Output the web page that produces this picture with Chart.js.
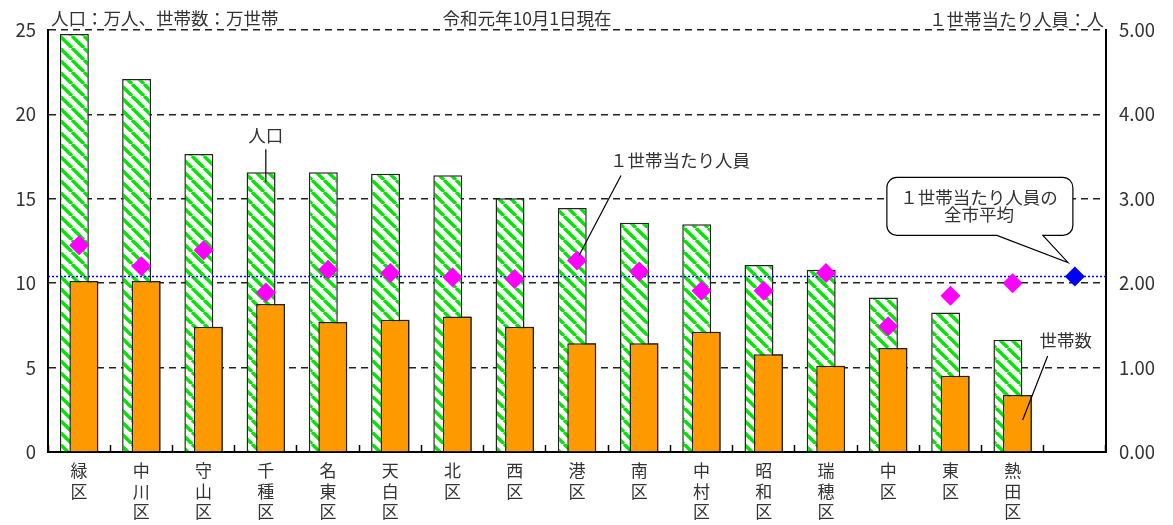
<!DOCTYPE html>
<html>
<head>
<meta charset="utf-8">
<script src="https://cdn.jsdelivr.net/npm/chart.js@4.4.1/dist/chart.umd.min.js"></script>
<style>
  html, body { margin: 0; padding: 0; background: #fff; }
</style>
</head>
<body>
<canvas id="chart" width="1173" height="525"></canvas>
<script>
// 区名（縦書きラベル）、最後の枠は全市平均用
var districts = [
    ['緑', '区'], ['中', '川', '区'], ['守', '山', '区'], ['千', '種', '区'],
    ['名', '東', '区'], ['天', '白', '区'], ['北', '区'], ['西', '区'],
    ['港', '区'], ['南', '区'], ['中', '村', '区'], ['昭', '和', '区'],
    ['瑞', '穂', '区'], ['中', '区'], ['東', '区'], ['熱', '田', '区'], ''
];
// 人口（万人）
var population = [24.76, 22.10, 17.65, 16.57, 16.57, 16.49, 16.39, 15.03, 14.45, 13.58, 13.49, 11.08, 10.80, 9.16, 8.27, 6.65, null];
// 世帯数（万世帯）
var households = [10.13, 10.13, 7.42, 8.77, 7.70, 7.84, 8.02, 7.42, 6.44, 6.44, 7.13, 5.79, 5.11, 6.16, 4.52, 3.38, null];
// 1世帯当たり人員（人）
var perHousehold = [2.45, 2.20, 2.39, 1.89, 2.16, 2.12, 2.07, 2.05, 2.27, 2.14, 1.91, 1.91, 2.12, 1.49, 1.85, 2.00, null];
var cityAverage = 2.08;

var FONT = "'Noto Sans CJK JP', 'Noto Sans', sans-serif";
var TEXT = '#333';

// 緑の斜線パターン
function makeHatch() {
    const s = 12;
    const c = document.createElement('canvas');
    c.width = s;
    c.height = s;
    const g = c.getContext('2d');
    g.fillStyle = '#fff';
    g.fillRect(0, 0, s, s);
    g.strokeStyle = '#00e600';
    g.lineWidth = 3.4;
    g.beginPath();
    for (let k = -1; k <= 1; k++) {
        g.moveTo(k * s, 0);
        g.lineTo(k * s + s, s);
    }
    g.stroke();
    return g.createPattern(c, 'repeat');
}

function text(ctx, str, x, y, align) {
    ctx.textAlign = align || 'center';
    ctx.fillText(str, x, y);
}

function line(ctx, x1, y1, x2, y2) {
    ctx.beginPath();
    ctx.moveTo(x1, y1);
    ctx.lineTo(x2, y2);
    ctx.stroke();
}

var decorations = {
    id: 'decorations',
    afterDatasetDraw(chart, args) {
        if (args.index !== 0) return;
        // 世帯数の棒を人口の棒の上に重ねる
        chart.getDatasetMeta(1).controller.draw();
        // 全市平均の点線
        const ctx = chart.ctx;
        const area = chart.chartArea;
        const y = chart.scales.y2.getPixelForValue(cityAverage);
        ctx.save();
        ctx.strokeStyle = '#0000ff';
        ctx.lineWidth = 1.5;
        ctx.setLineDash([2, 2]);
        line(ctx, area.left, y, area.right, y);
        ctx.restore();
    },
    afterDraw(chart) {
        const ctx = chart.ctx;
        const x = chart.scales.x, y = chart.scales.y, y2 = chart.scales.y2;
        ctx.save();
        ctx.fillStyle = TEXT;
        ctx.strokeStyle = '#000';
        ctx.lineWidth = 1.2;
        ctx.textBaseline = 'middle';
        ctx.font = '17.5px ' + FONT;

        // 見出し
        text(ctx, '人口：万人、世帯数：万世帯', 51, 18, 'left');
        text(ctx, '令和元年10月1日現在', 527, 18);
        text(ctx, '１世帯当たり人員：人', 1104, 19, 'right');

        // 人口
        let px = x.getPixelForValue(3);
        let py = y.getPixelForValue(population[3]);
        text(ctx, '人口', px, py - 37);
        line(ctx, px, py - 23, px, py + 10);

        // 1世帯当たり人員
        px = x.getPixelForValue(8);
        py = y2.getPixelForValue(perHousehold[8]);
        text(ctx, '１世帯当たり人員', px + 103, py - 100);
        line(ctx, px + 44, py - 85, px + 2, py - 5);

        // 世帯数
        px = x.getPixelForValue(15);
        py = y.getPixelForValue(households[15]);
        text(ctx, '世帯数', px + 53, py - 55);
        line(ctx, px + 35, py - 39, px + 10, py + 25);

        // 全市平均の吹き出し
        const tx = x.getPixelForValue(16) - 7;
        const ty = y2.getPixelForValue(cityAverage) - 14;
        const x0 = tx - 181, x1 = tx + 5, b0 = ty - 85, b1 = ty - 27, r = 10;
        ctx.beginPath();
        ctx.moveTo(x0 + r, b0);
        ctx.lineTo(x1 - r, b0);
        ctx.arcTo(x1, b0, x1, b0 + r, r);
        ctx.lineTo(x1, b1 - r);
        ctx.arcTo(x1, b1, x1 - r, b1, r);
        ctx.lineTo(tx - 25, b1);
        ctx.lineTo(tx, ty);
        ctx.lineTo(tx - 71, b1);
        ctx.lineTo(x0 + r, b1);
        ctx.arcTo(x0, b1, x0, b1 - r, r);
        ctx.lineTo(x0, b0 + r);
        ctx.arcTo(x0, b0, x0 + r, b0, r);
        ctx.closePath();
        ctx.fillStyle = '#fff';
        ctx.fill();
        ctx.stroke();
        ctx.fillStyle = TEXT;
        text(ctx, '１世帯当たり人員の', (x0 + x1) / 2 - 1, b0 + 20);
        text(ctx, '全市平均', (x0 + x1) / 2 - 1, b0 + 37);
        ctx.restore();
    }
};

var ctx = document.getElementById('chart').getContext('2d');
var lastIndex = districts.length - 1;

new Chart(ctx, {
    type: 'bar',
    data: {
        labels: districts,
        datasets: [{
            label: '人口',
            data: population,
            backgroundColor: makeHatch(),
            borderColor: '#222',
            borderWidth: 1.5,
            borderSkipped: 'bottom',
            categoryPercentage: 0.305,
            barPercentage: 3.05,
            order: 1
        }, {
            label: '世帯数',
            data: households,
            backgroundColor: '#ff9900',
            borderColor: '#222',
            borderWidth: 1.5,
            borderSkipped: 'bottom',
            categoryPercentage: 0.305,
            barPercentage: 3.05,
            order: 1
        }, {
            type: 'line',
            label: '１世帯当たり人員',
            data: perHousehold,
            yAxisID: 'y2',
            showLine: false,
            pointStyle: 'rectRot',
            pointRadius: 10,
            pointBackgroundColor: '#ff00ff',
            pointBorderWidth: 0,
            order: 0
        }, {
            type: 'line',
            label: '全市平均',
            data: districts.map((d, i) => i === lastIndex ? cityAverage : null),
            yAxisID: 'y2',
            showLine: false,
            pointStyle: 'rectRot',
            pointRadius: 10,
            pointBackgroundColor: '#0000ff',
            pointBorderWidth: 0,
            order: 0
        }]
    },
    options: {
        responsive: false,
        animation: false,
        layout: { padding: { top: 30, left: 0, right: 0, bottom: 0 } },
        plugins: {
            legend: { display: false },
            tooltip: { enabled: false }
        },
        scales: {
            x: {
                grid: {
                    offset: true,
                    drawOnChartArea: false,
                    tickLength: -7,
                    tickColor: '#000',
                    tickWidth: 1.5
                },
                border: { color: '#000', width: 2 },
                ticks: {
                    color: TEXT,
                    padding: 16,
                    maxRotation: 0,
                    autoSkip: false,
                    font: { family: FONT, size: 17, lineHeight: 1.18 }
                },
                afterFit(scale) { scale.height = 73; }
            },
            y: {
                position: 'left',
                min: 0,
                max: 25,
                ticks: {
                    stepSize: 5,
                    color: TEXT,
                    padding: 12,
                    font: { family: FONT, size: 18.5 }
                },
                grid: { color: '#222', lineWidth: 1.5, drawTicks: false },
                border: { color: '#000', width: 2, dash: [7, 5] },
                afterFit(scale) { scale.width = 48; }
            },
            y2: {
                position: 'right',
                min: 0,
                max: 5,
                ticks: {
                    stepSize: 1,
                    color: TEXT,
                    padding: 13,
                    font: { family: FONT, size: 18.5 },
                    callback: v => v.toFixed(2)
                },
                grid: { drawOnChartArea: false, drawTicks: false },
                border: { color: '#000', width: 2 },
                afterFit(scale) { scale.width = 67; }
            }
        }
    },
    plugins: [decorations]
});
</script>
</body>
</html>
